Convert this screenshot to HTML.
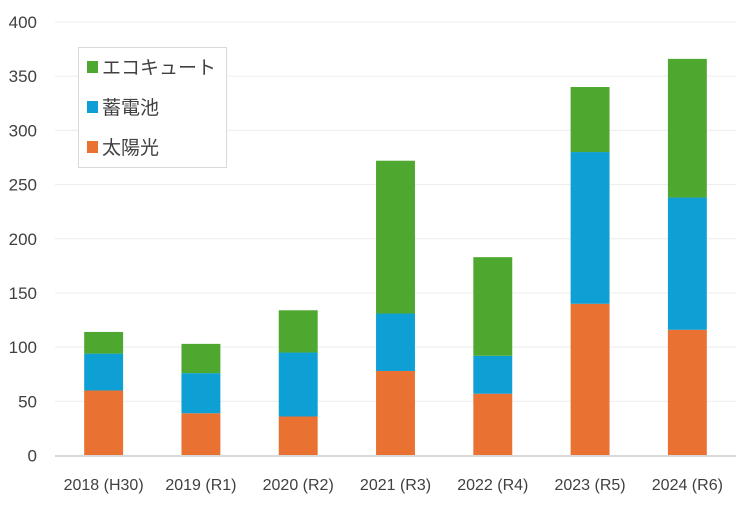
<!DOCTYPE html>
<html><head><meta charset="utf-8"><style>
html,body{margin:0;padding:0;background:#fff;}
svg{display:block;font-family:"Liberation Sans","Noto Sans CJK JP",sans-serif;}
</style></head><body>
<svg id="chart" width="736" height="512" viewBox="0 0 736 512"></svg>
<script>
const categories=["2018 (H30)","2019 (R1)","2020 (R2)","2021 (R3)","2022 (R4)","2023 (R5)","2024 (R6)"];
const solar=[60,39,36,78,57,140,116];
const battery=[34,37,59,53,35,140,122];
const ecocute=[20,27,39,141,91,60,128];
const yTicks=[0,50,100,150,200,250,300,350,400];
const seriesNames=["太陽光","蓄電池","エコキュート"];
const colors=["#e97132","#0e9fd5","#4ea72e"];
const NS="http://www.w3.org/2000/svg";
const svg=document.getElementById('chart');
const left=55,right=736,y0=455.5,yTop=22,yMax=400;
const band=(right-left)/categories.length;
const barW=band*0.4;
function y(v){return y0-(v/yMax)*(y0-yTop);}
function xc(i){return left+band*(i+0.5);}
function mk(t,a){const e=document.createElementNS(NS,t);for(const k in a)e.setAttribute(k,a[k]);svg.appendChild(e);return e;}
yTicks.forEach(t=>{
  if(t>0){const g=mk('line',{x1:left,x2:right,y1:y(t),y2:y(t),stroke:'#efefef','stroke-width':1.2});
  
  }
  const l=mk('text',{x:37,y:y(t)+6,'text-anchor':'end','font-size':17,fill:'#404040'});
  l.textContent=t;
  
  
});
const series=[solar,battery,ecocute];
categories.forEach((c,i)=>{
  let base=0;
  series.forEach((s,k)=>{
    const r=mk('rect',{x:xc(i)-barW/2,y:y(base+s[i]),width:barW,height:y(base)-y(base+s[i]),fill:colors[k]});
    
    
    base+=s[i];
  });
  const t=mk('text',{x:xc(i),y:490,'text-anchor':'middle','font-size':16,fill:'#404040'});
  t.textContent=c;
  
  
});
const ax=mk('line',{x1:left,x2:right,y1:y0+0.5,y2:y0+0.5,stroke:'#d9d9d9','stroke-width':2});


const lg=mk('rect',{x:78.5,y:47.5,width:148,height:120,fill:'#fff',stroke:'#d9d9d9'});


const legendOrder=[2,1,0];
legendOrder.forEach((k,j)=>{
  const yy=67+j*40;
  const s=mk('rect',{x:87,y:yy-6,width:11,height:12,fill:colors[k]});
  
  
  const t=mk('text',{x:102,y:yy+7,'font-size':19,fill:'#404040'});
  t.textContent=seriesNames[k];
  
  
});
</script>
</body></html>
